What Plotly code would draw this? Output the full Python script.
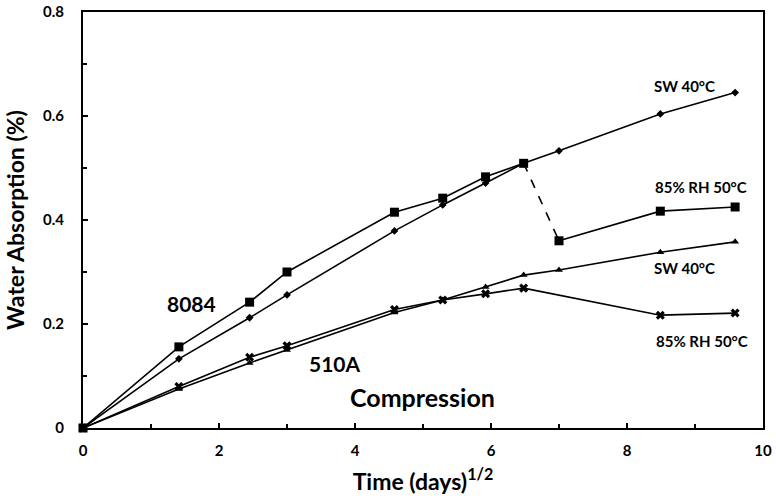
import plotly.graph_objects as go

# sqrt(days)
x_all = [0, 1.41, 2.45, 3.0, 4.58, 5.29, 5.92, 6.48, 7.0, 8.49, 9.59]

sw_8084 = [0, 0.133, 0.212, 0.256, 0.379, 0.429, 0.471, 0.509, 0.533, 0.604, 0.645]

rh_8084_x1 = [0, 1.41, 2.45, 3.0, 4.58, 5.29, 5.92, 6.48]
rh_8084_y1 = [0, 0.156, 0.242, 0.300, 0.415, 0.442, 0.483, 0.509]
rh_8084_x2 = [7.0, 8.49, 9.59]
rh_8084_y2 = [0.360, 0.417, 0.425]

sw_510a = [0, 0.075, 0.125, 0.150, 0.222, 0.246, 0.271, 0.294, 0.304, 0.338, 0.358]

rh_510a_x = [0, 1.41, 2.45, 3.0, 4.58, 5.29, 5.92, 6.48, 8.49, 9.59]
rh_510a_y = [0, 0.080, 0.136, 0.158, 0.228, 0.246, 0.258, 0.269, 0.217, 0.221]

x_ticks = [0, 2, 4, 6, 8, 10]
y_ticks = [0, 0.2, 0.4, 0.6, 0.8]
y_tick_text = ["0", "0.2", "0.4", "0.6", "0.8"]

FONT = "Lato"
LINE = dict(color="black", width=1.6)

fig = go.Figure()

fig.add_trace(go.Scatter(x=x_all, y=sw_8084, mode="lines+markers", line=LINE,
                         marker=dict(symbol="diamond", size=6, color="black"),
                         cliponaxis=False, showlegend=False))
fig.add_trace(go.Scatter(x=rh_8084_x1, y=rh_8084_y1, mode="lines+markers", line=LINE,
                         marker=dict(symbol="square", size=9, color="black"),
                         cliponaxis=False, showlegend=False))
fig.add_trace(go.Scatter(x=[rh_8084_x1[-1], rh_8084_x2[0]], y=[rh_8084_y1[-1], rh_8084_y2[0]],
                         mode="lines", line=dict(color="black", width=1.6, dash="dash"),
                         showlegend=False))
fig.add_trace(go.Scatter(x=rh_8084_x2, y=rh_8084_y2, mode="lines+markers", line=LINE,
                         marker=dict(symbol="square", size=9, color="black"),
                         cliponaxis=False, showlegend=False))
fig.add_trace(go.Scatter(x=x_all, y=sw_510a, mode="lines+markers", line=LINE,
                         marker=dict(symbol="triangle-up", size=7, color="black"),
                         cliponaxis=False, showlegend=False))
fig.add_trace(go.Scatter(x=rh_510a_x, y=rh_510a_y, mode="lines+markers", line=LINE,
                         marker=dict(symbol="x", size=8, color="black"),
                         cliponaxis=False, showlegend=False))

def ann(x, y, text, size):
    fig.add_annotation(x=x, y=y, xref="x", yref="y", text=f"<b>{text}</b>", showarrow=False,
                       font=dict(family=FONT, size=size, color="black"))

ann(8.85, 0.658, "SW 40°C", 15)
ann(9.09, 0.463, "85% RH 50°C", 15)
ann(8.85, 0.308, "SW 40°C", 15)
ann(9.10, 0.167, "85% RH 50°C", 15)
ann(1.59, 0.240, "8084", 21)
ann(3.71, 0.125, "510A", 21)
ann(4.99, 0.060, "Compression", 25)

fig.update_layout(
    width=776, height=498,
    margin=dict(l=83, r=13, t=12, b=70),
    paper_bgcolor="white", plot_bgcolor="white",
    font=dict(family=FONT, color="black"),
    xaxis=dict(range=[0, 10], tickvals=x_ticks, ticktext=[str(v) for v in x_ticks],
               showgrid=False, zeroline=False, automargin=False,
               showline=True, linecolor="black", linewidth=2, mirror=True,
               ticks="inside", ticklen=5, tickwidth=2, tickcolor="black",
               minor=dict(dtick=1, tick0=0, ticks="inside", ticklen=4, tickwidth=2, tickcolor="black"),
               ticklabelstandoff=8,
               tickfont=dict(family=FONT, size=15, color="black", weight="bold"),
               title=dict(text="<b>Time (days)<sup>1/2</sup></b>", font=dict(family=FONT, size=23), standoff=16)),
    yaxis=dict(range=[0, 0.8], tickvals=y_ticks, ticktext=y_tick_text,
               showgrid=False, zeroline=False, automargin=False,
               showline=True, linecolor="black", linewidth=2, mirror=True,
               ticks="inside", ticklen=5, tickwidth=2, tickcolor="black",
               minor=dict(dtick=0.1, tick0=0, ticks="inside", ticklen=4, tickwidth=2, tickcolor="black"),
               ticklabelstandoff=14,
               tickfont=dict(family=FONT, size=15, color="black", weight="bold"),
               title=dict(text="<b>Water Absorption (%)</b>", font=dict(family=FONT, size=23), standoff=12)),
)

fig.write_html("out.html", config={"displayModeBar": False},
               post_script="document.body.style.margin='0px';document.body.style.overflow='hidden';")
